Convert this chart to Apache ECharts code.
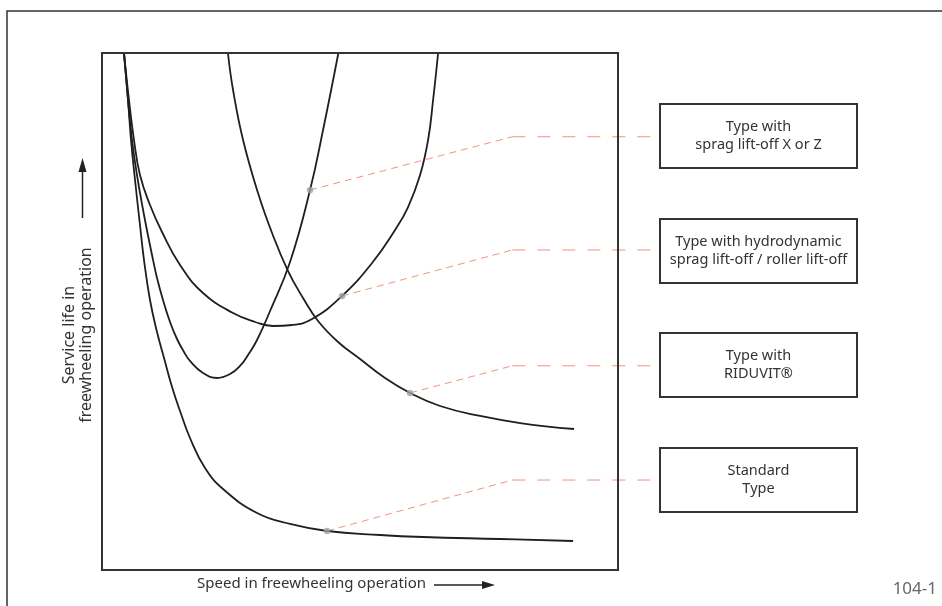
<!DOCTYPE html>
<html>
<head>
<meta charset="utf-8">
<script src="https://cdn.jsdelivr.net/npm/echarts@6/dist/echarts.min.js"></script>
<style>
  html, body { margin: 0; padding: 0; background: #fff; }
  #chart { width: 942px; height: 606px; }
</style>
</head>
<body>
<div id="chart"></div>
<script>
// curves (x: speed 0..100, y: service life 0..100)
const standardType = [
  [4.26, 100], [5.04, 90.91], [5.62, 83.17], [6.40, 75.44], [7.36, 66.73], [8.14, 59.96],
  [9.30, 52.22], [10.66, 46.03], [12.02, 41.01], [13.57, 35.40], [15.12, 30.75], [17.05, 25.53],
  [19.96, 19.73], [23.45, 15.67], [30.04, 11.03], [36.43, 8.90], [43.60, 7.54], [53.88, 6.77],
  [62.21, 6.38], [77.13, 6.00], [91.28, 5.61]
]
const spragLiftOff = [
  [4.26, 100], [5.04, 90.91], [5.81, 83.17], [6.78, 76.40], [8.14, 68.67], [9.69, 60.93],
  [10.66, 56.48], [11.82, 52.22], [13.18, 47.97], [14.53, 44.68], [15.89, 42.17], [17.05, 40.43],
  [19.57, 38.10], [22.29, 37.14], [24.81, 37.91], [26.74, 39.46], [28.29, 41.59], [30.04, 44.49],
  [32.56, 50.10], [36.43, 59.57], [40.31, 73.50], [42.83, 85.11], [45.8, 100]
]
const hydrodynamic = [
  [4.26, 100], [5.23, 90.91], [6.20, 83.17], [7.36, 76.40], [9.30, 70.60], [11.63, 65.38],
  [15.12, 58.99], [19.57, 53.58], [25.39, 49.71], [29.65, 47.97], [33.14, 47.20], [36.82, 47.39],
  [40.70, 48.55], [46.51, 53.00], [52.33, 59.38], [56.78, 65.76], [59.30, 70.21], [61.63, 76.40],
  [63.18, 83.17], [64.15, 90.91], [65.12, 100]
]
const riduvit = [
  [24.4, 100], [25.39, 92.84], [27.33, 83.17], [30.23, 72.92], [32.95, 65.18], [36.05, 57.83],
  [38.95, 52.61], [41.86, 48.16], [45.74, 44.10], [50.00, 40.81], [54.84, 37.14], [59.69, 34.24],
  [65.50, 31.72], [73.26, 29.79], [81.01, 28.43], [91.47, 27.27]
]

// callouts: dot on curve -> bend -> box edge
const calloutDots = [[40.31, 73.50], [46.51, 53.00], [59.69, 34.24], [43.60, 7.54]]
const calloutBendX = 79.5
const calloutLevels = [83.8, 61.9, 39.5, 17.4]
const boxEdgeX = 108.1
const boxLabels = [
  'Type with\nsprag lift-off X or Z',
  'Type with hydrodynamic\nsprag lift-off / roller lift-off',
  'Type with\nRIDUVIT®',
  'Standard\nType'
]

const xTitle = 'Speed in freewheeling operation'
const yTitle = 'Service life in\nfreewheeling operation'
const figureId = '104-1'

const chart = echarts.init(document.getElementById('chart'))

const curveStyle = { color: '#1f1f1f', width: 1.8 }
const leaderColor = '#f2937a'
const font = '"Noto Sans", sans-serif'

const curve = data => ({
  type: 'line',
  data,
  smooth: 0.45,
  symbol: 'none',
  lineStyle: curveStyle,
  silent: true,
  z: 3
})

const leaders = []
calloutDots.forEach((dot, i) => {
  leaders.push({
    type: 'line',
    data: [dot, [calloutBendX, calloutLevels[i]]],
    symbol: 'none',
    silent: true,
    lineStyle: { color: leaderColor, width: 1, type: [7, 5] },
    z: 2
  })
  leaders.push({
    type: 'line',
    data: [[calloutBendX, calloutLevels[i]], [boxEdgeX, calloutLevels[i]]],
    symbol: 'none',
    silent: true,
    lineStyle: { color: leaderColor, width: 1, type: [13, 12] },
    z: 2
  })
})

// box geometry (pixels)
const boxTops = [104, 219, 333, 448]
const boxes = []
boxTops.forEach((top, i) => {
  boxes.push({
    type: 'rect',
    shape: { x: 660, y: top, width: 197, height: 64 },
    style: { fill: '#fff', stroke: '#333', lineWidth: 2 },
    z: 10
  })
  boxes.push({
    type: 'text',
    x: 758.5,
    y: top + 32,
    style: {
      text: boxLabels[i],
      fontFamily: font,
      fontSize: 14.5,
      lineHeight: 18,
      fill: '#333',
      textAlign: 'center',
      textVerticalAlign: 'middle'
    },
    z: 11
  })
})

const option = {
  animation: false,
  backgroundColor: '#fff',
  // grid runs on to the boxes so the leaders reach them; the plot frame is drawn below
  grid: { left: 102, top: 53, width: 560, height: 517, show: false },
  xAxis: {
    type: 'value', min: 0, max: 108.5,
    axisLine: { show: false }, axisTick: { show: false },
    axisLabel: { show: false }, splitLine: { show: false }
  },
  yAxis: {
    type: 'value', min: 0, max: 100,
    axisLine: { show: false }, axisTick: { show: false },
    axisLabel: { show: false }, splitLine: { show: false }
  },
  series: [
    curve(standardType),
    curve(spragLiftOff),
    curve(hydrodynamic),
    curve(riduvit),
    ...leaders,
    {
      type: 'scatter',
      data: calloutDots,
      symbolSize: 6.5,
      itemStyle: { color: '#9ea3a7' },
      silent: true,
      z: 5
    }
  ],
  graphic: [
    // outer frame
    {
      type: 'polyline',
      shape: { points: [[7, 606], [7, 11], [942, 11]] },
      style: { stroke: '#333', lineWidth: 1.5, fill: null }
    },
    // plot frame
    {
      type: 'rect',
      shape: { x: 102, y: 53, width: 516, height: 517 },
      style: { stroke: '#333', lineWidth: 2, fill: null },
      z: 8
    },
    ...boxes,
    // y title + arrow
    {
      type: 'text',
      x: 78,
      y: 335,
      rotation: Math.PI / 2,
      style: {
        text: yTitle,
        fontFamily: font,
        fontSize: 16,
        lineHeight: 17,
        fill: '#333',
        textAlign: 'center',
        textVerticalAlign: 'middle'
      }
    },
    {
      type: 'line',
      shape: { x1: 82.5, y1: 218, x2: 82.5, y2: 170 },
      style: { stroke: '#222', lineWidth: 1.5 }
    },
    {
      type: 'polygon',
      shape: { points: [[82.5, 158], [78.5, 172], [86.5, 172]] },
      style: { fill: '#222' }
    },
    // x title + arrow
    {
      type: 'text',
      x: 197,
      y: 584,
      style: {
        text: xTitle,
        fontFamily: font,
        fontSize: 15,
        fill: '#333',
        textAlign: 'left',
        textVerticalAlign: 'middle'
      }
    },
    {
      type: 'line',
      shape: { x1: 434, y1: 585, x2: 484, y2: 585 },
      style: { stroke: '#222', lineWidth: 1.5 }
    },
    {
      type: 'polygon',
      shape: { points: [[495, 585], [482, 581], [482, 589]] },
      style: { fill: '#222' }
    },
    {
      type: 'text',
      x: 937,
      y: 589,
      style: {
        text: figureId,
        fontFamily: font,
        fontSize: 17,
        fill: '#666',
        textAlign: 'right',
        textVerticalAlign: 'middle'
      }
    }
  ]
}

chart.setOption(option)
</script>
</body>
</html>
